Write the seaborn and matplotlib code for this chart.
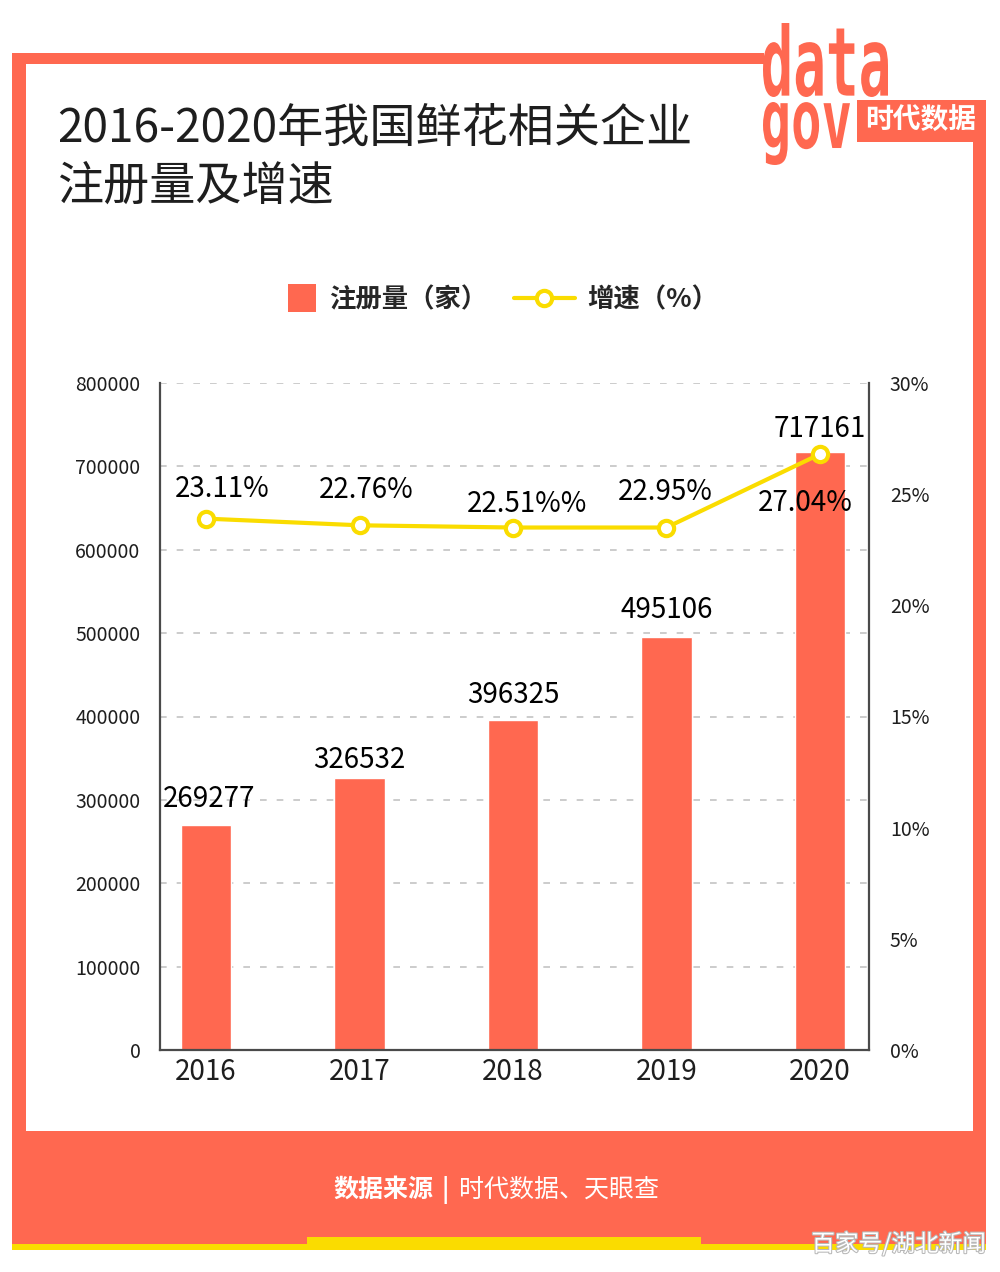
import numpy as np
import matplotlib
matplotlib.use("Agg")
import matplotlib.pyplot as plt
import matplotlib.patheffects as pe
import seaborn as sns
from matplotlib.patches import Rectangle, PathPatch
from matplotlib.lines import Line2D
from matplotlib.legend_handler import HandlerPatch
from matplotlib.textpath import TextPath
from matplotlib.font_manager import FontProperties
from matplotlib.transforms import Affine2D

# data
years = ["2016", "2017", "2018", "2019", "2020"]
registrations = [269277, 326532, 396325, 495106, 717161]
growth = [23.9, 23.6, 23.5, 23.5, 26.8]          # where the line is drawn
growth_labels = ["23.11%", "22.76%", "22.51%%", "22.95%", "27.04%"]
count_ticks = [0, 100000, 200000, 300000, 400000, 500000, 600000, 700000, 800000]
rate_ticks = [0, 5, 10, 15, 20, 25, 30]

ORANGE = "#FF6850"
YELLOW = "#FADC00"
TEXT = "#1e1e1e"
W, H = 1000, 1272

sns.set_theme(style="white")
plt.rcParams["font.family"] = ["Noto Sans CJK SC", "DejaVu Sans"]

fig = plt.figure(figsize=(W / 100, H / 100), dpi=100)
fig.patch.set_facecolor("white")


def fy(y):
    return 1 - y / H


def box(x0, y0, x1, y1, color):
    # pixel box, origin top-left
    fig.patches.append(Rectangle((x0 / W, fy(y1)), (x1 - x0) / W, (y1 - y0) / H,
                                 transform=fig.transFigure, color=color, lw=0, zorder=0))


def logo_text(s, x0, y0, x1, y1, color, family="DejaVu Sans Mono"):
    tp = TextPath((0, 0), s, size=100, prop=FontProperties(family=family, weight="bold"))
    bb = tp.get_extents()
    tr = (Affine2D().translate(-bb.x0, -bb.y0)
          .scale((x1 - x0) / W / bb.width, (y1 - y0) / H / bb.height)
          .translate(x0 / W, fy(y1)) + fig.transFigure)
    fig.patches.append(PathPatch(tp, transform=tr, color=color, lw=0))


# frame
box(12, 53, 764, 64, ORANGE)
box(12, 53, 26, 1244, ORANGE)
box(973, 100, 986, 1244, ORANGE)
box(857, 100, 986, 142, ORANGE)
box(12, 1131, 986, 1244, ORANGE)
box(12, 1244, 986, 1250, YELLOW)
box(307, 1237, 701, 1250, YELLOW)

# logo
logo_text("data", 763, 23, 888, 97, ORANGE)
logo_text("gov", 763, 102, 850, 165, ORANGE)
fig.text(921 / W, fy(121), "时代数据", ha="center", va="center", color="white",
         fontsize=20, fontweight="bold")

# title
fig.text(57 / W, fy(130), "2016-2020年我国鲜花相关企业", ha="left", va="center",
         fontsize=33.2, color=TEXT, fontweight="light")
fig.text(57 / W, fy(187), "注册量及增速", ha="left", va="center",
         fontsize=33.2, color=TEXT, fontweight="light")

# chart
ax = fig.add_axes([160 / W, fy(1050), (869 - 160) / W, (1050 - 383) / H])
sns.barplot(x=years, y=registrations, color=ORANGE, saturation=1, width=0.33, ax=ax)
ax.set_ylim(0, 800000)
ax.set_yticks(count_ticks)
ax.set_yticklabels([str(t) for t in count_ticks])
ax.yaxis.grid(True, linestyle=(0, (4, 6)), color="#c4c4c4", lw=1.2)
ax.set_axisbelow(True)
ax.set_xlabel("")
ax.set_ylabel("")
for s in ["top", "right"]:
    ax.spines[s].set_visible(False)
for s in ["left", "bottom"]:
    ax.spines[s].set_color("#4a4a4a")
    ax.spines[s].set_linewidth(1.6)
ax.tick_params(axis="y", length=0, pad=14, labelsize=14, labelcolor=TEXT)
ax.tick_params(axis="x", length=0, pad=5, labelsize=20, labelcolor=TEXT)

value_dy = [26, 18, 25, 27, 23]
for i, v in enumerate(registrations):
    ax.annotate(str(v), (i, v), xytext=(3 if i == 0 else 0, value_dy[i]),
                textcoords="offset pixels", ha="center", va="center",
                fontsize=20, color="black")

ax2 = ax.twinx()
sns.lineplot(x=np.arange(len(years)), y=growth, ax=ax2, color=YELLOW, lw=3,
             marker="o", markersize=11, markerfacecolor="white",
             markeredgecolor=YELLOW, markeredgewidth=3, zorder=5)
ax2.set_ylim(0, 30)
ax2.set_yticks(rate_ticks)
ax2.set_yticklabels([f"{t}%" for t in rate_ticks])
ax2.set_ylabel("")
ax2.grid(False)
for s in ["top", "left", "bottom"]:
    ax2.spines[s].set_visible(False)
ax2.spines["right"].set_color("#4a4a4a")
ax2.spines["right"].set_linewidth(1.6)
ax2.tick_params(axis="y", length=0, pad=15, labelsize=14, labelcolor=TEXT)

pct_dx = [16, 7, 14, -1, -15]
pct_dy = [30, 35, 24, 36, -49]
for i, (v, lab) in enumerate(zip(growth, growth_labels)):
    ax2.annotate(lab, (i, v), xytext=(pct_dx[i], pct_dy[i]), textcoords="offset pixels",
                 ha="center", va="center", fontsize=20, color="black")

ax.set_xlim(-0.3, 4.32)


# legend: square sits at the right end of its handle box
def square_patch(legend, orig_handle, xdescent, ydescent, width, height, fontsize):
    s = 20
    return Rectangle((width - xdescent - s, -ydescent + (height - s) / 2), s, s)


bar_handle = Rectangle((0, 0), 1, 1, color=ORANGE, lw=0)
line_handle = Line2D([], [], color=YELLOW, lw=3, marker="o", markersize=11,
                     markerfacecolor="white", markeredgecolor=YELLOW, markeredgewidth=3)
fig.legend([bar_handle, line_handle], ["注册量（家）", "增速（%）"], loc="center",
           bbox_to_anchor=(0.487, fy(300)), ncol=2, frameon=False,
           prop=FontProperties(family="Noto Sans CJK SC", size=19, weight="bold"),
           handlelength=2.3, handletextpad=0.5, columnspacing=1.0,
           handler_map={Rectangle: HandlerPatch(patch_func=square_patch)})

# source
fig.text(433 / W, fy(1190), "数据来源", ha="right", va="center", color="white",
         fontsize=18, fontweight="bold")
fig.text(445 / W, fy(1190), "|", ha="center", va="center", color="white",
         fontsize=18, fontweight="bold")
fig.text(459 / W, fy(1190), "时代数据、天眼查", ha="left", va="center", color="white",
         fontsize=18)

fig.text(986 / W, fy(1244), "百家号/湖北新闻", ha="right", va="center", color="white",
         fontsize=17, path_effects=[pe.withStroke(linewidth=1.5, foreground="#b8b8b8")])

fig.savefig("out.png", dpi=100)
